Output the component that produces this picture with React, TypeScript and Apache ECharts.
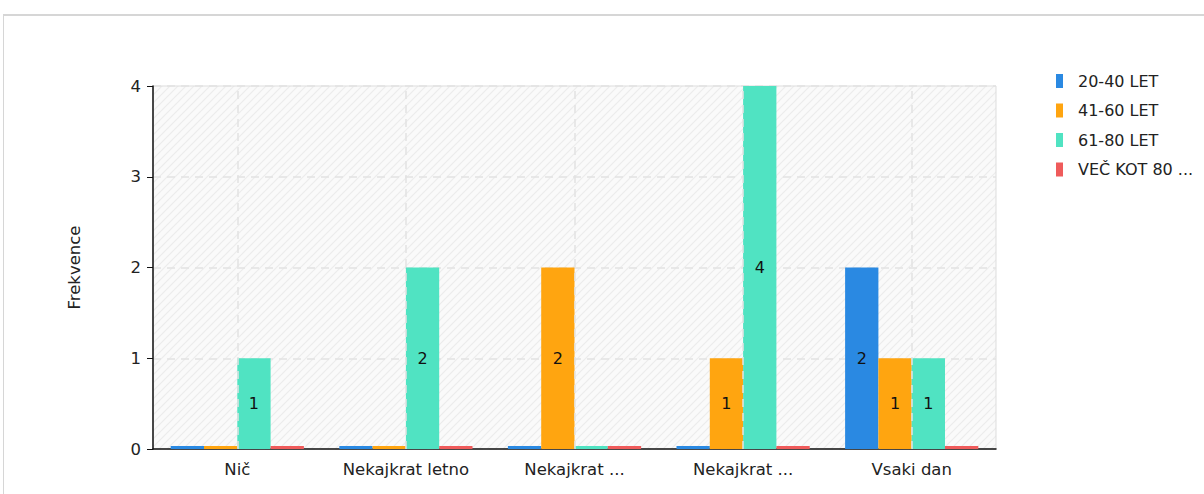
import React, { useEffect, useRef } from "react";
import * as echarts from "echarts";

const categories = ["Nič", "Nekajkrat letno", "Nekajkrat ...", "Nekajkrat ...", "Vsaki dan"];
const seriesNames = ["20-40 LET", "41-60 LET", "61-80 LET", "VEČ KOT 80 ..."];
const s2040 = [0, 0, 0, 0, 2];
const s4160 = [0, 0, 2, 1, 1];
const s6180 = [1, 2, 0, 4, 1];
const s80 = [0, 0, 0, 0, 0];
const colors = ["#2a89e2", "#ffa510", "#50e3c2", "#ef5b5b"];
const yTicks = [0, 1, 2, 3, 4];

const FONT = "DejaVu Sans";

function makeHatch(): any {
  const c = document.createElement("canvas");
  c.width = 8;
  c.height = 8;
  const ctx = c.getContext("2d");
  if (!ctx) return "#f8f8f8";
  ctx.fillStyle = "#fafafa";
  ctx.fillRect(0, 0, 8, 8);
  ctx.strokeStyle = "#ececec";
  ctx.lineWidth = 1.2;
  ctx.beginPath();
  ctx.moveTo(-2, 10);
  ctx.lineTo(10, -2);
  ctx.moveTo(-2, 2);
  ctx.lineTo(2, -2);
  ctx.moveTo(6, 10);
  ctx.lineTo(10, 6);
  ctx.stroke();
  return { image: c.toDataURL(), repeat: "repeat" };
}

export default function App() {
  const ref = useRef<HTMLDivElement>(null);
  useEffect(() => {
    document.body.style.margin = "0";
    if (!ref.current) return;
    const chart = echarts.init(ref.current, undefined, { renderer: "svg" });
    const all = [s2040, s4160, s6180, s80];
    const barSeries = all.map((d, i) => ({
      name: seriesNames[i],
      type: "bar",
      data: d,
      barGap: "0%",
      barCategoryGap: "21%",
      barMinHeight: 3,
      z: 3,
      itemStyle: { color: colors[i] },
      label: {
        show: true,
        position: "inside",
        color: "#111",
        fontFamily: FONT,
        fontSize: 16,
        formatter: (p: any) => (p.value ? String(p.value) : ""),
      },
    }));
    chart.setOption({
      animation: false,
      legend: {
        data: seriesNames,
        orient: "vertical",
        left: 1051,
        top: 68,
        itemWidth: 7,
        itemHeight: 14,
        itemGap: 13.5,
        icon: "rect",
        textStyle: { fontFamily: FONT, fontSize: 16, color: "#222", padding: [0, 0, 0, 10] },
      },
      grid: {
        left: 153,
        right: 208,
        top: 86,
        bottom: 45,
        show: true,
        backgroundColor: makeHatch(),
        borderColor: "#dddddd",
        borderWidth: 1,
      },
      xAxis: {
        type: "category",
        data: categories,
        axisLine: { lineStyle: { color: "#111", width: 1.5 } },
        axisTick: { alignWithLabel: true, length: 6, lineStyle: { color: "#111" } },
        axisLabel: { fontFamily: FONT, fontSize: 16.5, color: "#222", margin: 12 },
        splitLine: { show: false },
      },
      yAxis: {
        type: "value",
        min: 0,
        max: 4,
        interval: 1,
        name: "Frekvence",
        nameLocation: "middle",
        nameGap: 70,
        nameTextStyle: { fontFamily: FONT, fontSize: 16.5, color: "#222" },
        axisLine: { show: true, lineStyle: { color: "#111", width: 1.5 } },
        axisTick: { show: true, length: 6, lineStyle: { color: "#111" } },
        axisLabel: {
          fontFamily: FONT,
          fontSize: 16.5,
          color: "#222",
          margin: 12,
          formatter: (v: number) => (yTicks.includes(v) ? String(v) : ""),
        },
        splitLine: { lineStyle: { color: "#e2e2e2", type: [8, 6], width: 1.5 } },
      },
      series: [
        {
          name: "_grid",
          type: "line",
          data: [],
          z: 1,
          silent: true,
          markLine: {
            silent: true,
            symbol: "none",
            label: { show: false },
            lineStyle: { color: "#e2e2e2", type: [8, 6], width: 1.5 },
            data: categories.map((_, i) => ({ xAxis: i })),
          },
        },
        ...barSeries,
      ],
    });
    return () => chart.dispose();
  }, []);
  return (
    <div style={{ position: "relative", width: 1204, height: 494, overflow: "hidden", background: "#fff" }}>
      <div
        style={{
          position: "absolute",
          left: 3,
          top: 14,
          width: 1400,
          height: 700,
          borderTop: "2px solid #d6d6d6",
          borderLeft: "1px solid #d6d6d6",
        }}
      />
      <div ref={ref} style={{ position: "absolute", left: 0, top: 0, width: 1204, height: 494 }} />
    </div>
  );
}
